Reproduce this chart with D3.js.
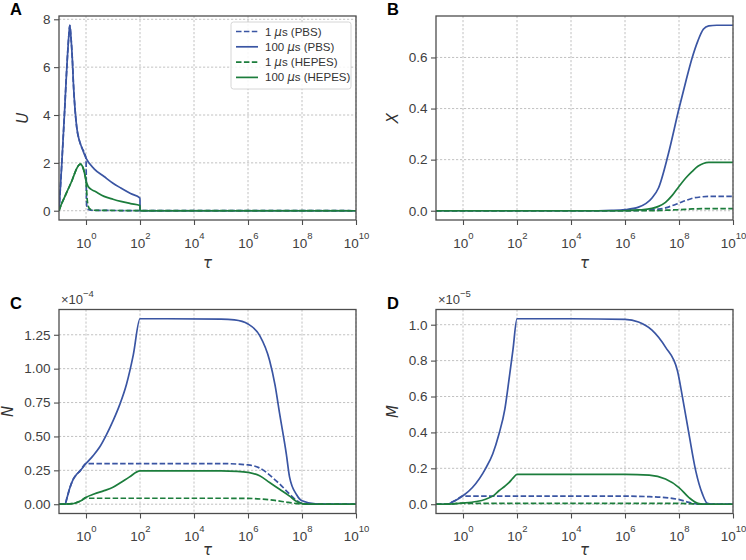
<!DOCTYPE html>
<html>
<head>
<meta charset="utf-8">
<script src="https://cdn.jsdelivr.net/npm/d3@7"></script>
<style>
  body { margin: 0; background: #fff; }
  svg { font-family: "Liberation Sans", Arial, sans-serif; }
  .grid line { stroke: #b3b3b3; stroke-width: 0.8; stroke-dasharray: 2.2,1.8; }
  .tick text { fill: #404040; }
</style>
</head>
<body>
<svg id="fig" width="746" height="560"></svg>
<script>
// series: [log10(tau), value]
// panel A: U
let uPbs1 = [[-1,0],[-0.9,1.9],[-0.8,4.0],[-0.7,6.2],[-0.63,7.4],[-0.6,7.75],[-0.56,7.3],[-0.5,6.2],[-0.47,5.4],[-0.41,4.3],[-0.345,3.5],[-0.25,2.95],[-0.16,2.65],[0,2.2],[0.02,0.3],[0.06,0.08],[0.2,0.02],[2,0.005],[10,0]];
let uPbs100 = [[-1,0],[-0.9,1.9],[-0.8,4.0],[-0.7,6.2],[-0.63,7.4],[-0.6,7.75],[-0.56,7.3],[-0.5,6.2],[-0.47,5.4],[-0.41,4.3],[-0.345,3.5],[-0.25,2.95],[-0.16,2.65],[0,2.2],[0.3,1.75],[0.67,1.43],[1.0,1.15],[1.29,0.95],[1.65,0.72],[2.0,0.53],[2.001,0],[10,0]];
let uHep1 = [[-1,0],[-0.9,0.3],[-0.78,0.6],[-0.65,0.93],[-0.53,1.23],[-0.44,1.5],[-0.35,1.75],[-0.27,1.9],[-0.2,1.95],[-0.13,1.85],[-0.06,1.6],[0,1.25],[0.05,0.4],[0.12,0.1],[0.25,0.02],[2,0.005],[10,0]];
let uHep100 = [[-1,0],[-0.9,0.3],[-0.78,0.6],[-0.65,0.93],[-0.53,1.23],[-0.44,1.5],[-0.35,1.75],[-0.27,1.9],[-0.2,1.95],[-0.13,1.85],[-0.06,1.6],[0,1.25],[0.08,1.02],[0.18,0.9],[0.33,0.81],[0.67,0.6],[1.0,0.48],[1.29,0.39],[1.65,0.3],[2.0,0.22],[2.001,0],[10,0]];

// panel B: X
let xPbs1 = [[-1,0],[6,0],[6.5,0.001],[7.0,0.004],[7.24,0.006],[7.5,0.011],[7.75,0.02],[8.0,0.03],[8.25,0.04],[8.5,0.049],[8.8,0.054],[9.1,0.056],[10,0.056]];
let xPbs100 = [[-1,0],[5,0],[5.5,0.001],[6,0.004],[6.5,0.014],[7.0,0.05],[7.24,0.089],[7.6,0.22],[8.0,0.40],[8.25,0.505],[8.48,0.596],[8.7,0.665],[8.9,0.71],[9.1,0.724],[9.4,0.726],[10,0.726]];
let xHep1 = [[-1,0],[7,0],[7.5,0.002],[8.0,0.004],[8.5,0.007],[9.0,0.008],[10,0.008]];
let xHep100 = [[-1,0],[6,0],[6.5,0.003],[7.0,0.009],[7.24,0.017],[7.5,0.033],[7.75,0.06],[8.0,0.095],[8.25,0.128],[8.48,0.153],[8.7,0.174],[8.9,0.185],[9.1,0.189],[10,0.189]];

// panel C: N (x1e-4)
let nPbs1 = [[-1,0],[-0.78,0],[-0.7,0.05],[-0.6,0.12],[-0.47,0.185],[-0.35,0.22],[-0.22,0.246],[0,0.30],[0.1,0.30],[5,0.30],[6,0.29],[6.4,0.27],[6.68,0.235],[7.0,0.18],[7.17,0.15],[7.54,0.075],[7.9,0.015],[8.2,0.002],[10,0]];
let nPbs100 = [[-1,0],[-0.78,0],[-0.7,0.05],[-0.6,0.12],[-0.47,0.185],[-0.35,0.22],[-0.22,0.246],[0,0.30],[0.25,0.355],[0.5,0.42],[0.75,0.51],[1.0,0.615],[1.25,0.735],[1.5,0.885],[1.75,1.1],[2.0,1.368],[3,1.368],[5,1.366],[5.5,1.36],[6,1.33],[6.43,1.245],[6.8,1.06],[7.0,0.88],[7.17,0.67],[7.42,0.37],[7.54,0.2],[7.8,0.07],[8.0,0.025],[8.5,0.003],[10,0]];
let nHep1 = [[-1,0],[-0.5,0.004],[-0.35,0.012],[-0.15,0.03],[0,0.05],[0.1,0.044],[5,0.044],[6,0.043],[6.5,0.038],[7,0.028],[7.5,0.013],[8,0.002],[10,0]];
let nHep100 = [[-1,0],[-0.5,0.004],[-0.35,0.012],[-0.15,0.03],[0,0.05],[0.3,0.075],[0.67,0.1],[1.0,0.125],[1.29,0.16],[1.6,0.2],[2.0,0.246],[5,0.246],[5.6,0.243],[6,0.235],[6.43,0.21],[6.8,0.16],[7.17,0.11],[7.54,0.06],[7.8,0.02],[8.0,0.005],[8.3,0],[10,0]];

// panel D: M (x1e-5)
let mPbs1 = [[-1,0],[-0.58,0],[-0.4,0.012],[-0.2,0.028],[0,0.047],[0.05,0.045],[6,0.045],[6.9,0.042],[7.5,0.037],[8.0,0.026],[8.37,0.01],[8.74,0.001],[10,0]];
let mPbs100 = [[-1,0],[-0.58,0],[-0.4,0.012],[-0.2,0.028],[0,0.047],[0.35,0.093],[0.84,0.2],[1.1,0.28],[1.33,0.39],[1.55,0.53],[1.7,0.69],[1.85,0.86],[2.0,1.033],[4,1.033],[6,1.03],[6.5,1.015],[7.0,0.97],[7.5,0.875],[7.94,0.745],[8.13,0.595],[8.37,0.39],[8.62,0.186],[8.87,0.056],[9.05,0.005],[9.3,0],[10,0]];
let mHep1 = [[-1,0],[-0.5,0.001],[0,0.006],[0.05,0.005],[8,0.005],[8.5,0.002],[9,0],[10,0]];
let mHep100 = [[-1,0],[-0.5,0.001],[0,0.006],[0.5,0.015],[0.84,0.028],[1.1,0.045],[1.33,0.075],[1.55,0.1],[1.7,0.12],[1.85,0.145],[2.0,0.166],[6,0.166],[6.9,0.162],[7.5,0.14],[8.0,0.093],[8.37,0.037],[8.74,0.003],[9,0],[10,0]];

let legendLabels = ['1 μs (PBS)', '100 μs (PBS)', '1 μs (HEPES)', '100 μs (HEPES)'];
let xTickExp = [0, 2, 4, 6, 8, 10];

let blue = '#3a55a3';
let green = '#1c7d3c';
let styles = [
  {color: blue, dash: '5.5,2.4'},
  {color: blue, dash: null},
  {color: green, dash: '5.5,2.4'},
  {color: green, dash: null}
];

let panels = [
  {letter: 'A', label: 'U', left: 59, top: 16, labelX: -36, tauY: 48, series: [uPbs1, uPbs100, uHep1, uHep100],
   ydom: [-0.3875, 8.1375], yticks: [0, 2, 4, 6, 8], yfmt: d3.format('d'), legend: true},
  {letter: 'B', label: 'X', left: 436, top: 16, labelX: -43, tauY: 48, series: [xPbs1, xPbs100, xHep1, xHep100],
   ydom: [-0.0363, 0.7623], yticks: [0, 0.2, 0.4, 0.6], yfmt: d3.format('.1f')},
  {letter: 'C', label: 'N', left: 59, top: 309.5, labelX: -51, tauY: 41, series: [nPbs1, nPbs100, nHep1, nHep100],
   ydom: [-0.0684, 1.4364], yticks: [0, 0.25, 0.5, 0.75, 1.0, 1.25], yfmt: d3.format('.2f'), expo: '−4'},
  {letter: 'D', label: 'M', left: 436, top: 309.5, labelX: -43, tauY: 41, series: [mPbs1, mPbs100, mHep1, mHep100],
   ydom: [-0.05165, 1.08465], yticks: [0, 0.2, 0.4, 0.6, 0.8, 1.0], yfmt: d3.format('.1f'), expo: '−5'}
];

let W = 297, H = 204;
let svg = d3.select('#fig');

panels.forEach(function (p) {
  let g = svg.append('g').attr('transform', 'translate(' + p.left + ',' + p.top + ')');

  let x = d3.scaleLog().domain([1e-1, 1e10]).range([0, W]);
  let y = d3.scaleLinear().domain(p.ydom).range([H, 0]);

  // grid
  let grid = g.append('g').attr('class', 'grid');
  grid.selectAll('.gx').data(xTickExp).enter().append('line')
    .attr('x1', d => x(Math.pow(10, d))).attr('x2', d => x(Math.pow(10, d)))
    .attr('y1', 0).attr('y2', H);
  grid.selectAll('.gy').data(p.yticks).enter().append('line')
    .attr('x1', 0).attr('x2', W)
    .attr('y1', d => y(d)).attr('y2', d => y(d));

  // lines
  let line = d3.line()
    .x(d => x(Math.pow(10, d[0])))
    .y(d => y(d[1]))
    .curve(d3.curveMonotoneX);

  let clipId = 'clip' + p.letter;
  g.append('clipPath').attr('id', clipId).append('rect').attr('width', W).attr('height', H);

  p.series.forEach(function (s, i) {
    g.append('path')
      .datum(s)
      .attr('clip-path', 'url(#' + clipId + ')')
      .attr('fill', 'none')
      .attr('stroke', styles[i].color)
      .attr('stroke-width', 1.7)
      .attr('stroke-dasharray', styles[i].dash)
      .attr('d', line);
  });

  // axes
  let xAxis = d3.axisBottom(x)
    .tickValues(xTickExp.map(e => Math.pow(10, e)))
    .tickSize(5).tickPadding(4)
    .tickFormat('');
  let xg = g.append('g').attr('transform', 'translate(0,' + H + ')').call(xAxis);
  xg.select('.domain').remove();
  xg.selectAll('.tick line').attr('stroke', '#4d4d4d').attr('stroke-width', 1.1);
  xg.selectAll('.tick').each(function (d) {
    let t = d3.select(this).append('text')
      .attr('y', 27.5).attr('text-anchor', 'middle')
      .attr('font-size', 13.5).attr('fill', '#404040');
    t.append('tspan').text('10');
    t.append('tspan').attr('dy', -9).attr('font-size', 9.5).text(Math.round(Math.log10(d)));
  });

  let yAxis = d3.axisLeft(y).tickValues(p.yticks).tickSize(5).tickPadding(3.5).tickFormat(p.yfmt);
  let yg = g.append('g').call(yAxis);
  yg.select('.domain').remove();
  yg.selectAll('.tick line').attr('stroke', '#4d4d4d').attr('stroke-width', 1.1);
  yg.selectAll('.tick text').attr('font-size', 13.5).attr('font-family', '"Liberation Sans", Arial, sans-serif');

  // frame
  g.append('rect').attr('width', W).attr('height', H)
    .attr('fill', 'none').attr('stroke', '#4d4d4d').attr('stroke-width', 1.3);

  // axis labels
  g.append('text')
    .attr('transform', 'translate(' + (p.labelX + 5) + ',' + (H / 2) + ') rotate(-90)')
    .attr('text-anchor', 'middle')
    .attr('font-size', 15).attr('font-style', 'italic').attr('fill', '#333')
    .attr('font-family', '"DejaVu Sans", sans-serif')
    .text(p.label);
  g.append('text')
    .attr('x', W / 2).attr('y', H + p.tauY)
    .attr('text-anchor', 'middle')
    .attr('font-size', 15).attr('font-style', 'italic').attr('fill', '#333')
    .attr('font-family', '"DejaVu Sans", sans-serif')
    .text('τ');

  // panel letter
  svg.append('text')
    .attr('x', p.left - 49).attr('y', p.top - 1)
    .attr('font-size', 16.5).attr('font-weight', 'bold').attr('fill', '#000')
    .text(p.letter);

  // offset exponent
  if (p.expo) {
    let t = g.append('text').attr('x', 2).attr('y', -6)
      .attr('font-size', 13).attr('fill', '#404040');
    t.append('tspan').text('×10');
    t.append('tspan').attr('dy', -7).attr('font-size', 9.5).text(p.expo);
  }

  // legend
  if (p.legend) {
    let lg = g.append('g').attr('transform', 'translate(172,6)');
    lg.append('rect').attr('width', 120).attr('height', 67).attr('rx', 2.5)
      .attr('fill', '#fff').attr('fill-opacity', 0.85)
      .attr('stroke', '#cccccc').attr('stroke-width', 0.8);
    legendLabels.forEach(function (lab, i) {
      let yy = 9.5 + i * 15.3;
      lg.append('line').attr('x1', 5).attr('x2', 27).attr('y1', yy).attr('y2', yy)
        .attr('stroke', styles[i].color).attr('stroke-width', 1.7)
        .attr('stroke-dasharray', styles[i].dash);
      let parts = lab.split('μ');
      let t = lg.append('text').attr('x', 34).attr('y', yy + 4)
        .attr('font-size', 11.5).attr('fill', '#333');
      t.append('tspan').text(parts[0]);
      t.append('tspan').attr('font-style', 'italic').attr('font-family', '"DejaVu Sans", sans-serif').text('μ');
      t.append('tspan').text(parts[1]);
    });
  }
});
</script>
</body>
</html>
